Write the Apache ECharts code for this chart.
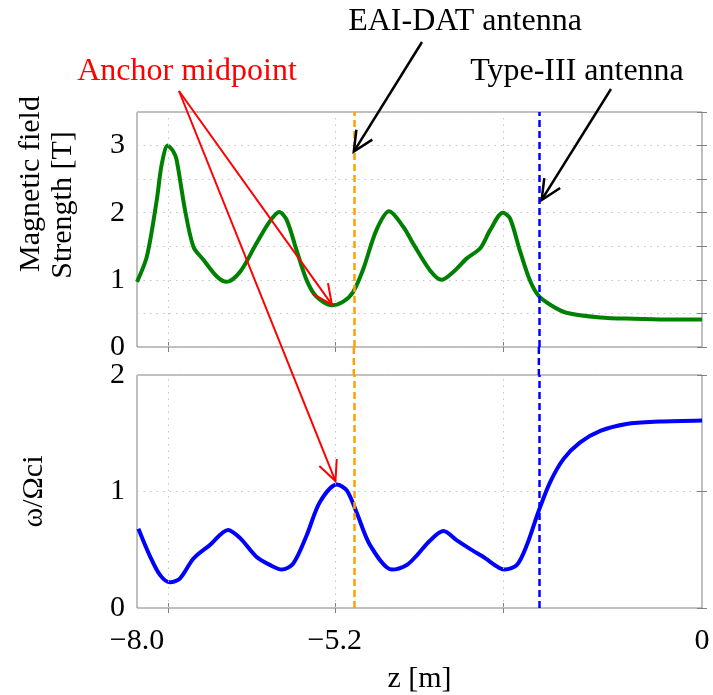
<!DOCTYPE html>
<html><head><meta charset="utf-8">
<script src="https://cdn.jsdelivr.net/npm/echarts@6/dist/echarts.min.js"></script>
<style>html,body{margin:0;padding:0;background:#fff}#c{width:713px;height:695px}</style>
</head><body><div id="c"></div>
<script>
// ---- data ----
const zField = [-8.0, -7.86, -7.72, -7.65, -7.565, -7.49, -7.44, -7.32, -7.20, -7.06, -6.87, -6.73, -6.54, -6.31, -6.12, -5.985, -5.88, -5.74, -5.60, -5.46, -5.24, -5.08, -4.94, -4.80, -4.61, -4.43, -4.23, -4.09, -3.85, -3.69, -3.52, -3.33, -3.14, -3.00, -2.82, -2.72, -2.58, -2.44, -2.32, -2.15, -1.92, -1.44, -0.97, -0.5, 0];
const fieldStrength = [0.97, 1.35, 2.19, 2.72, 3.0, 2.92, 2.79, 2.04, 1.49, 1.30, 1.05, 0.97, 1.12, 1.54, 1.87, 2.01, 1.89, 1.44, 1.0, 0.75, 0.62, 0.675, 0.82, 1.15, 1.74, 2.02, 1.79, 1.54, 1.14, 1.0, 1.12, 1.32, 1.47, 1.74, 2.0, 1.92, 1.44, 1.0, 0.77, 0.63, 0.51, 0.44, 0.42, 0.41, 0.41];
const zFreq = [-7.98, -7.82, -7.67, -7.53, -7.39, -7.20, -6.97, -6.71, -6.54, -6.31, -6.12, -5.95, -5.79, -5.60, -5.41, -5.17, -5.03, -4.89, -4.70, -4.39, -4.18, -4.04, -3.85, -3.66, -3.47, -3.28, -3.10, -2.79, -2.62, -2.48, -2.32, -2.15, -1.96, -1.73, -1.44, -1.07, -0.60, 0];
const freqRatio = [0.68, 0.45, 0.28, 0.22, 0.255, 0.425, 0.54, 0.67, 0.60, 0.44, 0.37, 0.33, 0.38, 0.62, 0.91, 1.06, 1.01, 0.82, 0.54, 0.33, 0.37, 0.45, 0.58, 0.66, 0.58, 0.505, 0.44, 0.33, 0.37, 0.54, 0.82, 1.08, 1.28, 1.42, 1.52, 1.58, 1.60, 1.61];
const xTickLabels = [-8.0, -5.2, 0];
const xGridValues = [-7.56, -5.2, -2.82];
const eaiDatZ = -4.93;
const typeIIIZ = -2.31;
const anchorFieldPoint = [-5.24, 0.63];
const anchorFreqPoint = [-5.19, 1.09];
const eaiArrowTip = [-4.93, 2.91];
const typeIIIArrowTip = [-2.27, 2.19];
const labelAnchor = 'Anchor midpoint';
const labelEai = 'EAI-DAT antenna';
const labelType3 = 'Type-III antenna';
const fieldTitleLines = ['Magnetic field', 'Strength [T]'];
const freqTitle = '\u03c9/\u03a9ci';

// ---- chart ----
const FONT = 'Liberation Serif';
const chart = echarts.init(document.getElementById('c'));
const gridLine = {color: '#c4c4c4', width: 1, type: [1.5, 5]};
const tickStyle = {color: '#808080', width: 1};
const fmtX = v => v === 0 ? '0' : '\u2212' + Math.abs(v).toFixed(1);

function vLines() {
  return {
    silent: true, symbol: 'none', label: {show: false},
    data: [
      ...xGridValues.map(v => ({xAxis: v, lineStyle: gridLine})),
      {xAxis: eaiDatZ, lineStyle: {color: '#ffa000', width: 2.5, type: [7, 4]}},
      {xAxis: typeIIIZ, lineStyle: {color: '#0000ff', width: 2.5, type: [7, 4]}}
    ]
  };
}

const xBase = (grid, pos, labels) => ({
  gridIndex: grid, type: 'value', min: -8, max: 0, position: pos,
  axisLine: {show: false},
  axisTick: {show: true, inside: true, length: 5, customValues: xGridValues, lineStyle: tickStyle},
  axisLabel: labels ? {show: true, customValues: xTickLabels, formatter: fmtX, showMinLabel: true, showMaxLabel: true,
    fontFamily: FONT, fontSize: 30, color: '#000', margin: 18} : {show: false},
  splitLine: {show: false}
});

const option = {
  animation: false,
  backgroundColor: '#fff',
  grid: [
    {left: 137, right: 11, top: 112, height: 235, show: true, borderColor: '#808080', borderWidth: 1},
    {left: 137, right: 11, top: 375, height: 235, show: true, borderColor: '#808080', borderWidth: 1}
  ],
  xAxis: [
    xBase(0, 'bottom', false),
    Object.assign(xBase(1, 'bottom', true), {name: 'z [m]', nameLocation: 'middle', nameGap: 56,
      nameTextStyle: {fontFamily: FONT, fontSize: 30, color: '#000'}}),
    xBase(0, 'top', false),
    xBase(1, 'top', false)
  ],
  yAxis: [
    {gridIndex: 0, type: 'value', min: 0, max: 3.5, interval: 0.5,
      axisLine: {show: false},
      axisTick: {show: true, inside: true, length: 5, lineStyle: tickStyle},
      axisLabel: {fontFamily: FONT, fontSize: 30, color: '#000', margin: 12,
        formatter: v => Number.isInteger(v) ? String(v) : ''},
      splitLine: {show: true, lineStyle: gridLine}},
    {gridIndex: 1, type: 'value', min: 0, max: 2, interval: 1,
      axisLine: {show: false},
      axisTick: {show: true, inside: true, length: 5, lineStyle: tickStyle},
      axisLabel: {fontFamily: FONT, fontSize: 30, color: '#000', margin: 12},
      splitLine: {show: true, lineStyle: gridLine},
      name: freqTitle, nameLocation: 'middle', nameGap: 88, nameRotate: 90,
      nameTextStyle: {fontFamily: FONT, fontSize: 30, color: '#000'}},
    {gridIndex: 0, type: 'value', min: 0, max: 3.5, interval: 0.5, position: 'right',
      axisLine: {show: false}, axisTick: {show: true, inside: true, length: 5, lineStyle: tickStyle},
      axisLabel: {show: false}, splitLine: {show: false}},
    {gridIndex: 1, type: 'value', min: 0, max: 2, interval: 1, position: 'right',
      axisLine: {show: false}, axisTick: {show: true, inside: true, length: 5, lineStyle: tickStyle},
      axisLabel: {show: false}, splitLine: {show: false}}
  ],
  series: [
    {name: 'Magnetic field strength', type: 'line', xAxisIndex: 0, yAxisIndex: 0,
      data: zField.map((z, i) => [z, fieldStrength[i]]),
      smooth: 0.3, showSymbol: false, lineStyle: {color: '#008000', width: 4}, itemStyle: {color: '#008000'},
      markLine: vLines()},
    {name: freqTitle, type: 'line', xAxisIndex: 1, yAxisIndex: 1,
      data: zFreq.map((z, i) => [z, freqRatio[i]]),
      smooth: 0.3, showSymbol: false, lineStyle: {color: '#0000ff', width: 4}, itemStyle: {color: '#0000ff'},
      markLine: vLines()}
  ]
};
chart.setOption(option);

// ---- annotations ----
const p0 = v => chart.convertToPixel({xAxisIndex: 0, yAxisIndex: 0}, v);
const p1 = v => chart.convertToPixel({xAxisIndex: 1, yAxisIndex: 1}, v);

function arrow(from, to, color, width) {
  const ang = Math.atan2(from[1] - to[1], from[0] - to[0]);
  const L = 22, h = 0.44;
  const a = [to[0] + L * Math.cos(ang + h), to[1] + L * Math.sin(ang + h)];
  const b = [to[0] + L * Math.cos(ang - h), to[1] + L * Math.sin(ang - h)];
  return [
    {type: 'line', shape: {x1: from[0], y1: from[1], x2: to[0], y2: to[1]}, style: {stroke: color, lineWidth: width}, z: 100},
    {type: 'polyline', shape: {points: [a, to, b]}, style: {stroke: color, lineWidth: width, fill: null}, z: 100}
  ];
}
function gapLine(z, color) {
  const t = p0([z, 0]), b = p1([z, 2]);
  return {type: 'line', shape: {x1: t[0], y1: t[1], x2: b[0], y2: b[1]},
    style: {stroke: color, lineWidth: 2.5, lineDash: [7, 4]}, z: 50};
}
const txt = (t, x, y, color, size, rot) => ({type: 'text', x: x, y: y, z: 100, rotation: rot || 0,
  style: {text: t, fill: color, fontFamily: FONT, fontSize: size, align: 'center', verticalAlign: 'middle'}});

const redStart = [179, 91];
chart.setOption({graphic: [
  gapLine(eaiDatZ, '#ffa000'),
  gapLine(typeIIIZ, '#0000ff'),
  ...arrow(redStart, p0(anchorFieldPoint), '#ff0000', 2),
  ...arrow(redStart, p1(anchorFreqPoint), '#ff0000', 2),
  ...arrow([422, 42], p0(eaiArrowTip), '#000', 2.5),
  ...arrow([611, 89], p0(typeIIIArrowTip), '#000', 2.5),
  txt(labelAnchor, 187, 72, '#ff0000', 32),
  txt(labelEai, 465, 22, '#000', 32),
  txt(labelType3, 577, 72, '#000', 32),
  txt(fieldTitleLines[0], 31, 184, '#000', 30, Math.PI / 2),
  txt(fieldTitleLines[1], 63, 205, '#000', 30, Math.PI / 2)
]});
</script>
</body></html>
